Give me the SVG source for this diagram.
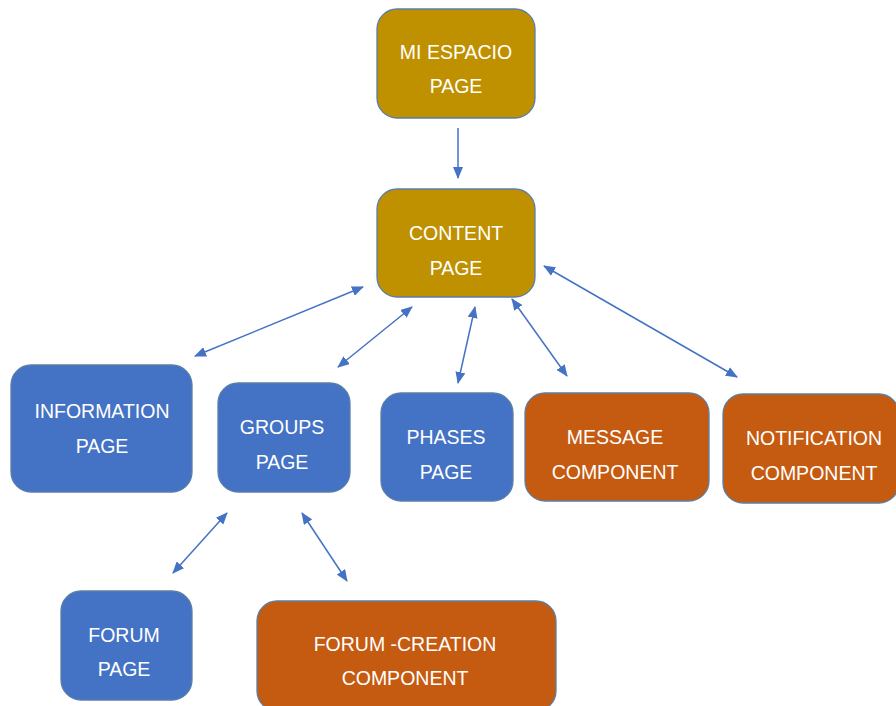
<svg xmlns="http://www.w3.org/2000/svg" width="896" height="706" viewBox="0 0 896 706">
<defs>
<style>
.n rect{stroke:#5a7fa6;stroke-width:1.3}
.gold rect{fill:#BF9000}
.blue rect{fill:#4472C4}
.orange rect{fill:#C55A11}
.n text{fill:#ffffff;font-family:"Liberation Sans",Arial,sans-serif;font-size:19.5px;text-anchor:middle}
.c line{stroke:#4472C4;stroke-width:1.5;fill:none}
</style>
<marker id="ah" viewBox="0 0 12 10" refX="11" refY="5" markerWidth="12" markerHeight="10" markerUnits="userSpaceOnUse" orient="auto-start-reverse">
<path d="M0,0 L12,5 L0,10 z" fill="#4472C4"/>
</marker>
</defs>
<rect width="896" height="706" fill="#ffffff"/>
<g class="c">
<line x1="458" y1="128" x2="458" y2="178" marker-end="url(#ah)"/>
<line x1="363" y1="287" x2="195" y2="356" marker-start="url(#ah)" marker-end="url(#ah)"/>
<line x1="412" y1="307" x2="338" y2="367" marker-start="url(#ah)" marker-end="url(#ah)"/>
<line x1="475" y1="307" x2="458" y2="383" marker-start="url(#ah)" marker-end="url(#ah)"/>
<line x1="512" y1="299" x2="567" y2="376" marker-start="url(#ah)" marker-end="url(#ah)"/>
<line x1="544" y1="266" x2="737" y2="377" marker-start="url(#ah)" marker-end="url(#ah)"/>
<line x1="227" y1="513" x2="173" y2="573" marker-start="url(#ah)" marker-end="url(#ah)"/>
<line x1="302" y1="513" x2="347" y2="581" marker-start="url(#ah)" marker-end="url(#ah)"/>
</g>
<g id="mi-espacio" class="n gold"><rect x="377" y="9" width="158" height="109" rx="20"/><text x="456" y="59">MI ESPACIO</text><text x="456" y="93">PAGE</text></g>
<g id="content" class="n gold"><rect x="377" y="189" width="158" height="108" rx="20"/><text x="456" y="240">CONTENT</text><text x="456" y="275">PAGE</text></g>
<g id="information" class="n blue"><rect x="11" y="365" width="181" height="127" rx="20"/><text x="102" y="418">INFORMATION</text><text x="102" y="453">PAGE</text></g>
<g id="groups" class="n blue"><rect x="218" y="383" width="132" height="109" rx="20"/><text x="282" y="434">GROUPS</text><text x="282" y="469">PAGE</text></g>
<g id="phases" class="n blue"><rect x="381" y="393" width="132" height="108" rx="20"/><text x="446" y="444">PHASES</text><text x="446" y="479">PAGE</text></g>
<g id="message" class="n orange"><rect x="525" y="393" width="184" height="108" rx="20"/><text x="615" y="444">MESSAGE</text><text x="615" y="479">COMPONENT</text></g>
<g id="notification" class="n orange"><rect x="723" y="394" width="176" height="109" rx="20"/><text x="814" y="445">NOTIFICATION</text><text x="814" y="480">COMPONENT</text></g>
<g id="forum" class="n blue"><rect x="61" y="591" width="131" height="109" rx="20"/><text x="124" y="642">FORUM</text><text x="124" y="676">PAGE</text></g>
<g id="forum-creation" class="n orange"><rect x="257" y="601" width="299" height="110" rx="20"/><text x="405" y="651">FORUM -CREATION</text><text x="405" y="685">COMPONENT</text></g>
</svg>
